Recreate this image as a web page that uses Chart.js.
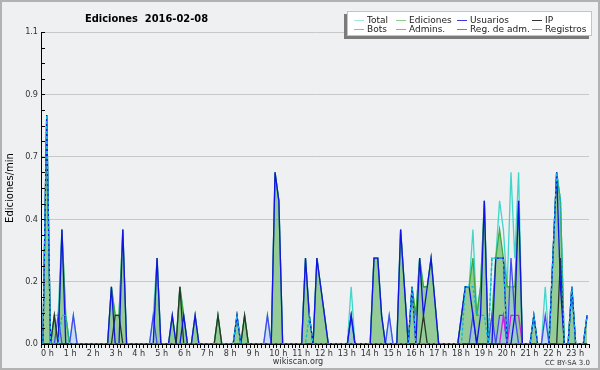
<!DOCTYPE html>
<html>
<head>
<meta charset="utf-8">
<title>Ediciones 2016-02-08</title>
<script src="https://cdn.jsdelivr.net/npm/chart.js@4.4.1/dist/chart.umd.min.js"></script>
<style>
  html, body { margin: 0; padding: 0; background: #eef0f1; }
  #wrap { width: 600px; height: 370px; }
</style>
</head>
<body>
<div id="wrap"><canvas id="chart" width="600" height="370"></canvas></div>
<script>
// edits per minute, 10-minute bins (144 per day), 4 hours per row
const total = [
  0,0.8,0,0.1,0.1,0.4,0.1,0,0.1,0,0,0,0,0,0,0,0,0,0.2,0.1,0.1,0.4,0,0,
  0,0,0,0,0,0.1,0.3,0,0,0,0.1,0,0.2,0.1,0,0,0.1,0,0,0,0,0,0.1,0,
  0,0,0,0.1,0,0.1,0,0,0,0,0,0.1,0,0.6,0.5,0,0,0,0,0,0,0.3,0.1,0,
  0.3,0.2,0.1,0,0,0,0,0,0,0.2,0,0,0,0,0,0.3,0.3,0.1,0,0.1,0,0,0.4,0.2,
  0,0.2,0.1,0.3,0.2,0.2,0.3,0.15,0,0,0,0,0,0,0.1,0.2,0.2,0.4,0.1,0.2,0.5,0,0.3,0.3,
  0.5,0.4,0.2,0.6,0.3,0.6,0,0,0,0.1,0,0,0.2,0,0.3,0.6,0.5,0,0,0.2,0,0,0,0.1
];
const ediciones = [
  0,0.8,0,0.1,0,0.4,0.1,0,0,0,0,0,0,0,0,0,0,0,0.2,0.1,0.1,0.4,0,0,
  0,0,0,0,0,0,0.3,0,0,0,0.1,0,0.2,0.1,0,0,0.1,0,0,0,0,0,0.1,0,
  0,0,0,0.1,0,0.1,0,0,0,0,0,0,0,0.6,0.5,0,0,0,0,0,0,0.3,0.1,0,
  0.3,0.2,0.1,0,0,0,0,0,0,0.1,0,0,0,0,0,0.3,0.3,0.1,0,0,0,0,0.4,0.2,
  0,0.2,0.1,0.3,0.2,0.2,0.3,0.15,0,0,0,0,0,0,0.1,0.2,0.2,0.3,0.1,0.2,0.5,0,0.1,0.3,
  0.4,0.3,0.2,0.2,0.2,0.5,0,0,0,0.1,0,0,0,0,0.3,0.6,0.5,0,0,0.2,0,0,0,0.1
];
const usuarios = [
  0,0.8,0,0,0,0.4,0,0,0,0,0,0,0,0,0,0,0,0,0.2,0,0,0.4,0,0,
  0,0,0,0,0,0,0.3,0,0,0,0.1,0,0,0.1,0,0,0.1,0,0,0,0,0,0,0,
  0,0,0,0.1,0,0,0,0,0,0,0,0,0,0.6,0.5,0,0,0,0,0,0,0.3,0.1,0,
  0.3,0.2,0.1,0,0,0,0,0,0,0.1,0,0,0,0,0,0.3,0.3,0.1,0,0,0,0,0.4,0.2,
  0,0.2,0,0.3,0.1,0.2,0.3,0.15,0,0,0,0,0,0,0.1,0.2,0.2,0.1,0,0.1,0.5,0,0,0.3,
  0.3,0.3,0,0,0.1,0.5,0,0,0,0.1,0,0,0,0,0.3,0.6,0.2,0,0,0.2,0,0,0,0.1
];
const ip = [
  0,0,0,0.1,0,0,0,0,0,0,0,0,0,0,0,0,0,0,0,0.1,0.1,0,0,0,
  0,0,0,0,0,0,0,0,0,0,0,0,0.2,0,0,0,0,0,0,0,0,0,0.1,0,
  0,0,0,0,0,0.1,0,0,0,0,0,0,0,0,0,0,0,0,0,0,0,0,0,0,
  0,0,0,0,0,0,0,0,0,0,0,0,0,0,0,0,0,0,0,0,0,0,0,0,
  0,0,0,0,0.1,0,0,0,0,0,0,0,0,0,0,0,0,0,0,0,0,0,0,0,
  0,0,0,0,0,0,0,0,0,0,0,0,0,0,0,0,0.3,0,0,0,0,0,0,0
];
const bots = [
  0,0,0,0,0,0,0,0,0,0,0,0,0,0,0,0,0,0,0,0,0,0,0,0,
  0,0,0,0,0,0,0,0,0,0,0,0,0,0,0,0,0,0,0,0,0,0,0,0,
  0,0,0,0,0,0,0,0,0,0,0,0,0,0,0,0,0,0,0,0,0,0,0,0,
  0,0,0,0,0,0,0,0,0,0,0,0,0,0,0,0,0,0,0,0,0,0,0,0,
  0,0,0,0,0,0,0,0,0,0,0,0,0,0,0,0,0,0,0,0,0,0,0,0,
  0,0,0,0,0,0,0,0,0,0,0,0,0,0,0,0,0,0,0,0,0,0,0,0
];
const admins = [
  0,0.8,0,0,0,0.1,0.1,0,0,0,0,0,0,0,0,0,0,0,0,0,0,0,0,0,
  0,0,0,0,0,0,0,0,0,0,0,0,0,0,0,0,0,0,0,0,0,0,0,0,
  0,0,0,0.1,0,0,0,0,0,0,0,0,0,0,0,0,0,0,0,0,0,0,0.1,0,
  0,0,0,0,0,0,0,0,0,0,0,0,0,0,0,0,0,0,0,0,0,0,0,0,
  0,0.2,0,0,0,0,0,0,0,0,0,0,0,0,0,0.2,0.2,0.2,0.1,0.1,0.1,0,0.3,0.3,
  0.3,0.3,0,0,0,0,0,0,0,0.1,0,0,0,0,0.3,0.6,0.5,0,0,0.2,0,0,0,0.1
];
const regAdm = [
  0,0,0,0,0,0,0,0,0,0,0,0,0,0,0,0,0,0,0,0,0,0,0,0,
  0,0,0,0,0,0,0,0,0,0,0,0,0,0,0,0,0,0,0,0,0,0,0,0,
  0,0,0,0,0,0,0,0,0,0,0,0,0,0,0,0,0,0,0,0,0,0,0,0,
  0,0,0,0,0,0,0,0,0,0,0,0,0,0,0,0,0,0,0,0,0,0,0,0,
  0,0,0,0,0,0,0,0,0,0,0,0,0,0,0,0,0,0,0,0,0,0,0,0,
  0,0.1,0,0.1,0.1,0.1,0,0,0,0,0,0,0,0,0,0,0,0,0,0,0,0,0,0
];
const registros = [
  0,0,0,0,0.1,0,0,0,0.1,0,0,0,0,0,0,0,0,0,0,0,0,0,0,0,
  0,0,0,0,0,0.1,0,0,0,0,0,0,0,0,0,0,0,0,0,0,0,0,0,0,
  0,0,0,0,0,0,0,0,0,0,0,0.1,0,0,0,0,0,0,0,0,0,0,0,0,
  0,0,0,0,0,0,0,0,0,0.1,0,0,0,0,0,0,0,0,0,0.1,0,0,0,0,
  0,0,0,0,0,0,0,0,0,0,0,0,0,0,0,0,0,0.1,0,0,0,0,0.1,0,
  0.1,0.1,0,0.3,0.1,0,0,0,0,0,0,0,0.1,0,0,0,0,0,0,0,0,0,0,0
];

const seriesNames = ['Total', 'Ediciones', 'Usuarios', 'IP', 'Bots', 'Admins.', 'Reg. de adm.', 'Registros'];
const hourLabels = ['0 h','1 h','2 h','3 h','4 h','5 h','6 h','7 h','8 h','9 h','10 h','11 h',
                    '12 h','13 h','14 h','15 h','16 h','17 h','18 h','19 h','20 h','21 h','22 h','23 h'];
const yTickLabels = ['0.0', '0.2', '0.4', '0.7', '0.9', '1.1'];
const yMax = 1.09;

const FONT = 'DejaVu Sans';
const NARROW = '"DejaVu Sans Condensed", "DejaVu Sans"';
const legendColors = ['#a8e6e2', '#8ccf8c', '#3a3ae0', '#333333', '#f0a030', '#3cc8e0', '#e040e0', '#8080ff'];

function pts(arr) {
  // each value sits in the middle of its 10-minute bin
  return arr.map((v, i) => ({ x: i + 0.5, y: v }));
}

function line(label, arr, color, order, extra) {
  return Object.assign({
    label: label,
    data: pts(arr),
    borderColor: color,
    borderWidth: 1.3,
    pointRadius: 0,
    tension: 0,
    fill: false,
    order: order
  }, extra || {});
}

const datasets = [
  line(seriesNames[0], total, '#40d6ca', 7),
  line(seriesNames[1], ediciones, '#3fa83f', 6, { fill: 'origin', backgroundColor: 'rgba(60,165,60,0.5)' }),
  line(seriesNames[2], usuarios, '#1212e6', 2),
  line(seriesNames[3], ip, '#263626', 3),
  line(seriesNames[4], bots, '#f0a030', 9),
  line(seriesNames[5], admins, '#12b6d8', 1, { borderDash: [3, 2] }),
  line(seriesNames[6], regAdm, '#d020e0', 4),
  line(seriesNames[7], registros, '#4848f0', 5, { fill: 'origin', backgroundColor: 'rgba(160,205,240,0.5)' })
];

const decor = {
  id: 'decor',
  beforeDraw(chart) {
    const c = chart.ctx;
    c.save();
    c.fillStyle = '#eef0f1';
    c.fillRect(0, 0, chart.width, chart.height);
    c.restore();
  },
  afterDraw(chart) {
    const c = chart.ctx, ys = chart.scales.y, a = chart.chartArea;
    c.save();

    // small ticks pointing into the plot
    c.strokeStyle = '#000';
    c.lineWidth = 1;
    ys.ticks.forEach(t => {
      const py = Math.round(ys.getPixelForValue(t.value)) + 0.5;
      c.beginPath();
      c.moveTo(a.left, py);
      c.lineTo(a.left + 4, py);
      c.stroke();
    });

    // y title
    c.save();
    c.translate(10, (a.top + a.bottom) / 2);
    c.rotate(-Math.PI / 2);
    c.fillStyle = '#000';
    c.font = '10px "' + FONT + '"';
    c.textAlign = 'center';
    c.textBaseline = 'middle';
    c.fillText('Ediciones/min', 0, 0);
    c.restore();

    // title
    c.fillStyle = '#000';
    c.font = 'bold 11px ' + NARROW;
    c.textAlign = 'left';
    c.textBaseline = 'alphabetic';
    c.fillText('Ediciones  2016-02-08', 85, 22);

    // legend box
    c.fillStyle = '#7a7a7a';
    c.fillRect(344, 14, 245, 25);
    c.fillStyle = '#ffffff';
    c.fillRect(347, 11, 245, 25);
    c.strokeStyle = '#c4c4c4';
    c.strokeRect(347.5, 11.5, 244, 24);

    const colX = [367, 409, 470, 545];
    const rowY = [22.5, 32];
    c.font = '9px "' + FONT + '"';
    chart.data.datasets.forEach((ds, i) => {
      const x = colX[i % 4], y = rowY[Math.floor(i / 4)];
      c.strokeStyle = legendColors[i];
      c.lineWidth = 1;
      c.beginPath();
      c.moveTo(x - 13, Math.round(y - 3) + 0.5);
      c.lineTo(x - 3, Math.round(y - 3) + 0.5);
      c.stroke();
      c.fillStyle = '#222';
      c.fillText(ds.label, x, y);
    });

    // footer
    c.fillStyle = '#333';
    c.font = '9px ' + NARROW;
    c.textAlign = 'center';
    c.fillText('wikiscan.org', 298, 364);
    c.font = '7px "' + FONT + '"';
    c.textAlign = 'right';
    c.fillText('CC BY-SA 3.0', 590, 365);

    // outer frame
    c.strokeStyle = '#b2b2b2';
    c.lineWidth = 2;
    c.strokeRect(1, 1, chart.width - 2, chart.height - 2);
    c.restore();
  }
};

new Chart(document.getElementById('chart'), {
  type: 'line',
  data: { datasets: datasets },
  options: {
    responsive: false,
    animation: false,
    layout: { padding: { left: 0, right: 11, top: 32, bottom: 0 } },
    plugins: {
      legend: { display: false },
      title: { display: false },
      tooltip: { enabled: false }
    },
    scales: {
      x: {
        type: 'linear',
        min: 0,
        max: 144,
        z: 1,
        afterBuildTicks: s => {
          const t = [];
          for (let v = 0; v <= 144; v++) t.push({ value: v });
          s.ticks = t;
        },
        afterFit: s => { s.height = 26; },
        ticks: {
          autoSkip: false,
          maxRotation: 0,
          minRotation: 0,
          align: 'start',
          padding: 0,
          color: '#333',
          font: { family: NARROW, size: 9 },
          callback: v => (v % 6 === 0 && v < 144) ? hourLabels[v / 6] : ''
        },
        grid: { drawOnChartArea: false, drawTicks: true, tickLength: 4, tickColor: '#000', tickWidth: 1 },
        border: { display: true, color: '#000', width: 1 }
      },
      y: {
        type: 'linear',
        min: 0,
        max: yMax,
        afterBuildTicks: s => {
          const t = [];
          for (let i = 0; i <= 20; i++) t.push({ value: yMax * i / 20 });
          s.ticks = t;
        },
        afterFit: s => { s.width = 41; },
        ticks: {
          autoSkip: false,
          padding: 3,
          color: '#333',
          font: { family: NARROW, size: 9 },
          callback: (v, i) => (i % 4 === 0) ? yTickLabels[i / 4] : ''
        },
        grid: {
          drawTicks: false,
          color: c => (c.index % 4 === 0) ? '#c8c8c8' : 'rgba(0,0,0,0)',
          lineWidth: 1
        },
        border: { display: true, color: '#000', width: 1 }
      }
    }
  },
  plugins: [decor]
});
</script>
</body>
</html>
